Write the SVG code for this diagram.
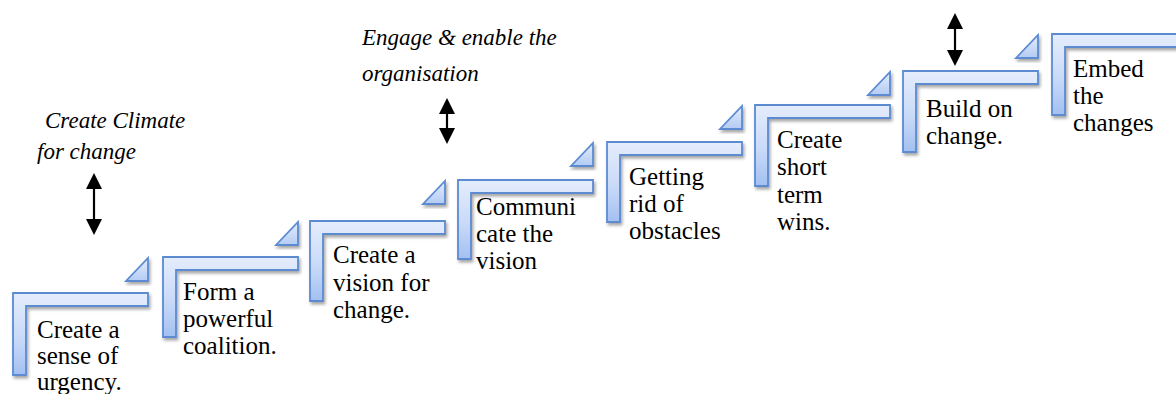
<svg xmlns="http://www.w3.org/2000/svg" width="1176" height="394" viewBox="0 0 1176 394">
  <defs>
    <linearGradient id="stepFill" x1="0" y1="0" x2="0" y2="1">
      <stop offset="0" stop-color="#e4edfc"/>
      <stop offset="0.55" stop-color="#c9daf8"/>
      <stop offset="1" stop-color="#a3c0f1"/>
    </linearGradient>
    <linearGradient id="triFill" x1="0" y1="0" x2="0" y2="1">
      <stop offset="0" stop-color="#e4edfc"/>
      <stop offset="1" stop-color="#b3cbf4"/>
    </linearGradient>
    <filter id="shadow" x="-20%" y="-20%" width="140%" height="140%">
      <feDropShadow dx="1.5" dy="2.5" stdDeviation="1.5" flood-color="#000" flood-opacity="0.35"/>
    </filter>
    <marker id="head" viewBox="0 0 16 16" refX="0" refY="8" markerWidth="16" markerHeight="16" markerUnits="userSpaceOnUse" orient="auto-start-reverse">
      <path d="M0,0 L16,8 L0,16 Z" fill="#000"/>
    </marker>
  </defs>
  <style>
    .step { fill: url(#stepFill); stroke: #5b8bd2; stroke-width: 1.8; stroke-linejoin: miter; filter: url(#shadow); }
    .tri { fill: url(#triFill); stroke: #5b8bd2; stroke-width: 1.8; filter: url(#shadow); }
    .label { font-size: 25px; }
    .phase { font-size: 23px; font-style: italic; }
    .arrow { stroke: #000; stroke-width: 2.2; fill: none; marker-start: url(#head); marker-end: url(#head); }
  </style>

  <!-- riser triangles between consecutive steps -->
  <g id="risers">
    <polygon class="tri" points="148,258 148,281 126,281"/>
    <polygon class="tri" points="298,222 298,245 276,245"/>
    <polygon class="tri" points="445,181 445,204 423,204"/>
    <polygon class="tri" points="593,143 593,166 571,166"/>
    <polygon class="tri" points="742,106 742,129 720,129"/>
    <polygon class="tri" points="890,72 890,95 868,95"/>
    <polygon class="tri" points="1038,35 1038,58 1016,58"/>
  </g>

  <g id="steps" font-family="Liberation Serif, Tinos, Times New Roman, Times, Noto Serif, DejaVu Serif, serif" fill="#000">
  <g id="step1">
    <path class="step" d="M13,293 H148 V306 H26 V375 H13 Z"/>
    <text class="label" x="37" y="338">Create a</text>
    <text class="label" x="37" y="364">sense of</text>
    <text class="label" x="37" y="390">urgency.</text>
  </g>
  <g id="step2">
    <path class="step" d="M163,257 H298 V270 H176 V337 H163 Z"/>
    <text class="label" x="183" y="300">Form a</text>
    <text class="label" x="183" y="327">powerful</text>
    <text class="label" x="183" y="354">coalition.</text>
  </g>
  <g id="step3">
    <path class="step" d="M310,221 H445 V234 H323 V301 H310 Z"/>
    <text class="label" x="333" y="263">Create a</text>
    <text class="label" x="333" y="291">vision for</text>
    <text class="label" x="333" y="318">change.</text>
  </g>
  <g id="step4">
    <path class="step" d="M458,180 H593 V193 H471 V259 H458 Z"/>
    <text class="label" x="476" y="215">Communi</text>
    <text class="label" x="476" y="242">cate the</text>
    <text class="label" x="476" y="269">vision</text>
  </g>
  <g id="step5">
    <path class="step" d="M607,142 H742 V155 H620 V222 H607 Z"/>
    <text class="label" x="629" y="185">Getting</text>
    <text class="label" x="629" y="212">rid of</text>
    <text class="label" x="629" y="239">obstacles</text>
  </g>
  <g id="step6">
    <path class="step" d="M755,105 H890 V118 H768 V186 H755 Z"/>
    <text class="label" x="777" y="148">Create</text>
    <text class="label" x="777" y="175">short</text>
    <text class="label" x="777" y="203">term</text>
    <text class="label" x="777" y="230">wins.</text>
  </g>
  <g id="step7">
    <path class="step" d="M903,71 H1038 V84 H916 V152 H903 Z"/>
    <text class="label" x="926" y="117">Build on</text>
    <text class="label" x="926" y="144">change.</text>
  </g>
  <g id="step8">
    <path class="step" d="M1052,34 H1187 V47 H1065 V115 H1052 Z"/>
    <text class="label" x="1073" y="77">Embed</text>
    <text class="label" x="1073" y="104">the</text>
    <text class="label" x="1073" y="131">changes</text>
  </g>

  <!-- phase captions -->
  <g id="phase-climate">
    <text class="phase" x="45" y="128">Create Climate</text>
    <text class="phase" x="37" y="159">for change</text>
  </g>
  <g id="phase-engage">
    <text class="phase" x="362" y="45">Engage &amp; enable the</text>
    <text class="phase" x="362" y="81">organisation</text>
  </g>
  </g>

  <g id="connectors">
    <line class="arrow" x1="94" y1="189" x2="94" y2="219"/>
    <line class="arrow" x1="447" y1="114" x2="447" y2="128"/>
    <line class="arrow" x1="955" y1="29" x2="955" y2="50"/>
  </g>
</svg>
